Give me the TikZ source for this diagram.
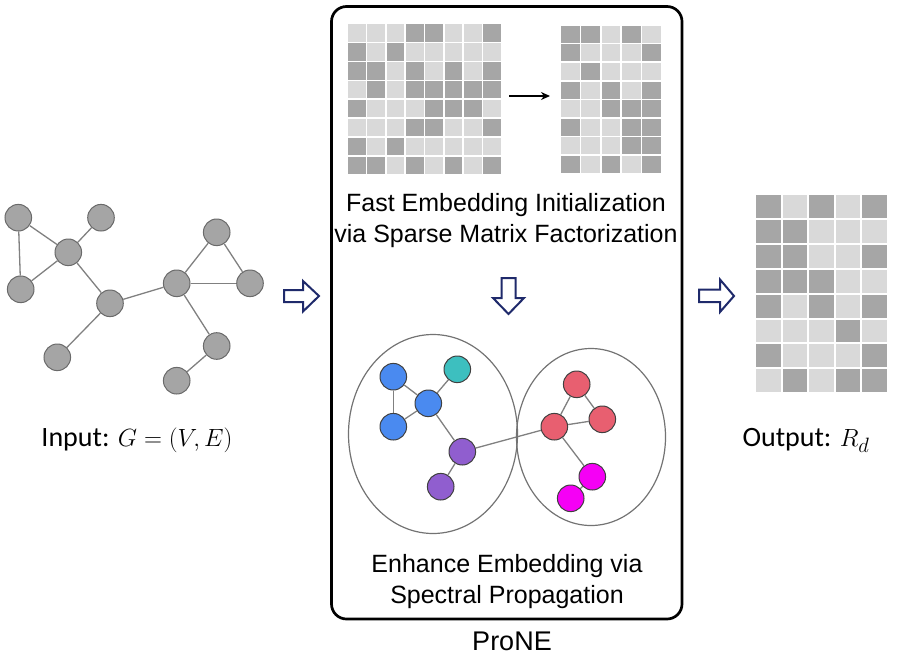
\documentclass[tikz,border=0pt]{standalone}
\usepackage{fontspec}
\setmainfont{Liberation Sans}
\newfontfamily\carlito{Carlito}
\usetikzlibrary{arrows.meta,backgrounds}
\definecolor{cell0}{HTML}{D9D9D9}
\definecolor{cell1}{HTML}{A6A6A6}
\definecolor{gnode}{HTML}{A5A5A5}
\definecolor{gborder}{HTML}{6A6A6A}
\definecolor{navy}{HTML}{1F2A6B}
\definecolor{nblue}{HTML}{4A8AF0}
\definecolor{nteal}{HTML}{3DBFBF}
\definecolor{npurple}{HTML}{905ECF}
\definecolor{nred}{HTML}{E85F70}
\definecolor{nmag}{HTML}{F500F5}
\newcommand\drawmat[6]{%
  \foreach \row [count=\r from 0] in {#5} {%
    \foreach \v [count=\c from 0] in \row {%
      \fill[cell\v] ({#1+\c*#3+#6},{#2+\r*#4+#6}) rectangle ++({#3-2*#6},{#4-2*#6});
    }%
  }%
}
\tikzset{
  gn/.style={circle, draw=gborder, fill=gnode, minimum size=26.6pt, inner sep=0pt, line width=1pt},
  cn/.style={circle, draw=black!75, fill=#1, minimum size=26.6pt, inner sep=0pt, line width=1pt},
  edge/.style={draw=black!50, line width=1.3pt},
  lbl/.style={align=center, font=\fontsize{25}{31}\selectfont, inner sep=0pt},
  hollow/.style={draw=navy, line width=2pt, fill=white, line join=miter},
  cluster/.style={draw=black!55, line width=1.2pt}
}
\begin{document}
\begin{tikzpicture}[x=1pt,y=-1pt]
\useasboundingbox (0,0) rectangle (901,661);
% main box
\draw[line width=2.7pt, rounded corners=15pt] (331.5,6.5) rectangle (682,619);
% matrices
\drawmat{347}{23.5}{19.375}{18.94}{{0,0,0,1,1,0,0,1},{1,0,1,0,0,0,0,0},{1,1,0,1,0,1,0,1},{0,1,0,1,1,1,1,1},{1,0,0,0,1,1,1,0},{0,0,0,1,1,0,0,1},{1,0,1,0,0,0,0,0},{1,1,0,1,0,1,0,1}}{0.8}
\drawmat{560}{25}{20.4}{18.6}{{1,1,0,1,0},{1,0,0,0,1},{0,1,0,0,0},{1,0,1,0,1},{0,0,1,1,1},{1,0,0,1,1},{0,0,0,1,1},{1,0,1,0,1}}{0.8}
\drawmat{755}{194}{26.6}{24.9}{{1,0,1,0,1},{1,1,0,0,0},{1,1,0,0,1},{1,1,1,0,0},{1,0,1,0,1},{0,0,0,1,0},{1,0,0,0,1},{0,1,0,1,1}}{1}
\coordinate (ms) at (509,96);
\coordinate (me) at (550,96);
\draw[line width=2pt, -{Stealth[length=9pt,width=8pt]}] (ms) -- (me);
% texts
\node[lbl] (t1) at (506,220.5) {Fast Embedding Initialization\\via Sparse Matrix Factorization};
\node[lbl] (t2) at (507,582) {Enhance Embedding via\\Spectral Propagation};
\node[lbl, font=\fontsize{27}{31}\selectfont] (t3) at (512,641) {ProNE};
\node[inner sep=0pt, font=\fontsize{28}{32}\selectfont] (in) at (137,440) {\carlito Input: $G=(V,E)$};
\node[inner sep=0pt, font=\fontsize{28}{32}\selectfont] (out) at (806,440) {\carlito Output: $R_d$};
% hollow arrows
\draw[hollow] (284,290) -- (303,290) -- (303,281) -- (319,296) -- (303,311.5) -- (303,302) -- (284,302) -- cycle;
\draw[hollow] (501.5,278) -- (515.5,278) -- (515.5,298) -- (524,298) -- (508.5,314) -- (493,298) -- (501.5,298) -- cycle;
\draw[hollow] (699,289.5) -- (720,289.5) -- (720,279.5) -- (734,296) -- (720,312) -- (720,302) -- (699,302) -- cycle;
% input graph
\node[gn] (A) at (18.3,217.7) {};
\node[gn] (B) at (101,217.7) {};
\node[gn] (C) at (68.3,252.3) {};
\node[gn] (D) at (20.7,289.3) {};
\node[gn] (E) at (110,303.3) {};
\node[gn] (F) at (57.3,357.3) {};
\node[gn] (G) at (176.7,283.3) {};
\node[gn] (H) at (216.7,232.3) {};
\node[gn] (I) at (250,283.3) {};
\node[gn] (J) at (216.7,346) {};
\node[gn] (K) at (176.7,380.7) {};
% clusters
\draw[cluster] (433,434) ellipse [x radius=84.5, y radius=99.5];
\draw[cluster] (591,437) ellipse [x radius=74.5, y radius=88.5];
\node[cn=nblue] (b1) at (393.3,376.7) {};
\node[cn=nteal] (te) at (457.3,369.3) {};
\node[cn=nblue] (b2) at (428.3,403.3) {};
\node[cn=nblue] (b3) at (393.3,426.7) {};
\node[cn=npurple] (p1) at (462.3,451.7) {};
\node[cn=npurple] (p2) at (440.7,486.7) {};
\node[cn=nred] (r1) at (576.7,384.3) {};
\node[cn=nred] (r2) at (602.3,419.3) {};
\node[cn=nred] (r3) at (554.3,426.7) {};
\node[cn=nmag] (m1) at (592.3,476.7) {};
\node[cn=nmag] (m2) at (570.7,498.3) {};
\begin{scope}[on background layer]
\draw[edge] (A) -- (C); \draw[edge] (A) -- (D); \draw[edge] (D) -- (C);
\draw[edge] (C) -- (B); \draw[edge] (C) -- (E); \draw[edge] (E) -- (F);
\draw[edge] (E) -- (G); \draw[edge] (G) -- (H); \draw[edge] (H) -- (I);
\draw[edge] (G) -- (I); \draw[edge] (G) -- (J); \draw[edge] (J) -- (K);
\draw[edge] (b1) -- (b2); \draw[edge] (b1) -- (b3); \draw[edge] (b3) -- (b2);
\draw[edge] (b2) -- (te); \draw[edge] (b2) -- (p1); \draw[edge] (p1) -- (p2);
\draw[edge] (p1) -- (r3); \draw[edge] (r3) -- (r1); \draw[edge] (r1) -- (r2);
\draw[edge] (r3) -- (r2); \draw[edge] (r3) -- (m1); \draw[edge] (m1) -- (m2);
\end{scope}
\end{tikzpicture}
\end{document}
